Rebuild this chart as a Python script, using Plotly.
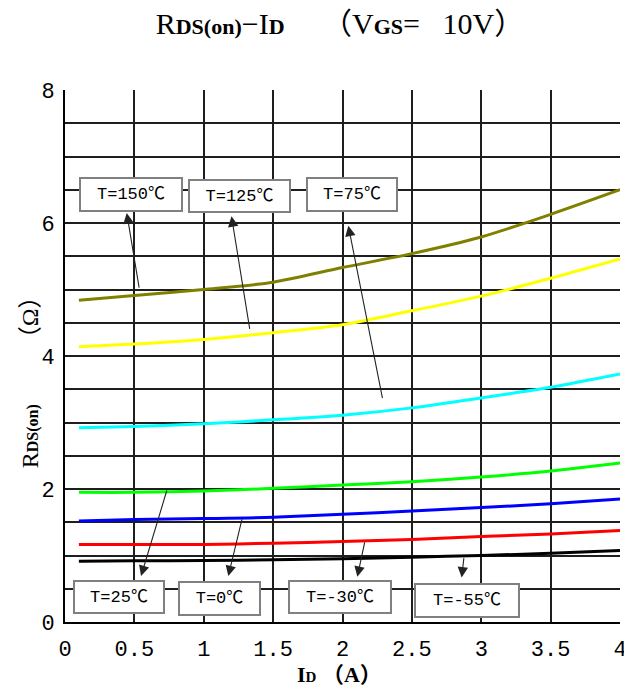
import numpy as np
import plotly.graph_objects as go

# ---------------- data ----------------
current_a = [0.1, 0.5, 1.0, 1.5, 2.0, 2.5, 3.0, 3.5, 4.0]
r_150 = [4.84, 4.91, 5.00, 5.11, 5.33, 5.54, 5.79, 6.13, 6.50]
r_125 = [4.14, 4.18, 4.25, 4.35, 4.47, 4.68, 4.90, 5.17, 5.46]
r_75 = [2.92, 2.94, 2.98, 3.04, 3.11, 3.22, 3.37, 3.53, 3.73]
r_25 = [1.95, 1.95, 1.97, 2.01, 2.06, 2.11, 2.18, 2.27, 2.39]
r_0 = [1.52, 1.54, 1.555, 1.575, 1.62, 1.67, 1.72, 1.78, 1.85]
r_m30 = [1.165, 1.165, 1.165, 1.185, 1.21, 1.24, 1.285, 1.325, 1.375]
r_m55 = [0.915, 0.92, 0.925, 0.935, 0.95, 0.975, 1.00, 1.035, 1.075]

series_labels = ["T=150℃", "T=125℃", "T=75℃", "T=25℃", "T=0℃", "T=-30℃", "T=-55℃"]
series_values = [r_150, r_125, r_75, r_25, r_0, r_m30, r_m55]

x_tick_vals = [0, 0.5, 1, 1.5, 2, 2.5, 3, 3.5, 4]
x_tick_text = ["0", "0.5", "1", "1.5", "2", "2.5", "3", "3.5", "4"]
y_tick_vals = [0, 0.5, 1, 1.5, 2, 2.5, 3, 3.5, 4, 4.5, 5, 5.5, 6, 6.5, 7, 7.5, 8]
y_tick_text = ["0", "", "", "", "2", "", "", "", "4", "", "", "", "6", "", "", "", "8"]

# ---------------- styles / layout helpers ----------------
colors = ["#808000", "#FFFF00", "#00FFFF", "#00FF00", "#0000FF", "#FF0000", "#000000"]
# label box: (center x, center y, width px, height px)
label_boxes = [
    (0.474, 6.43, 104, 35),
    (1.259, 6.40, 103, 34),
    (2.068, 6.43, 92, 35),
    (0.388, 0.38, 92, 34),
    (1.117, 0.35, 83, 35),
    (1.982, 0.38, 104, 34),
    (2.895, 0.33, 106, 35),
]
# arrow: (head x, head y, tail x, tail offset from curve)
arrows = [
    (0.445, 6.15, 0.536, 0.09),
    (1.200, 6.10, 1.333, 0.07),
    (2.042, 5.96, 2.290, 0.17),
    (0.548, 0.69, 0.737, 0.04),
    (1.177, 0.69, 1.278, 0.0),
    (2.107, 0.68, 2.162, 0.0),
    (2.859, 0.67, 2.876, -0.01),
]

tick_font = dict(family="Liberation Mono, DejaVu Sans Mono, monospace", size=22, color="#000")
serif = "Liberation Serif, Noto Sans CJK SC, serif"

fig = go.Figure()
for name, vals, col in zip(series_labels, series_values, colors):
    fig.add_trace(go.Scatter(x=current_a, y=vals, mode="lines", name=name,
                             line=dict(color=col, width=3, shape="spline", smoothing=0.8),
                             hoverinfo="skip"))

annotations = []
for (hx, hy, tx, dy), vals in zip(arrows, series_values):
    ty = float(np.interp(tx, current_a, vals)) + dy
    annotations.append(dict(x=hx, y=hy, ax=tx, ay=ty, xref="x", yref="y", axref="x", ayref="y",
                            text="", showarrow=True, arrowhead=2, arrowsize=1.9, arrowwidth=1.1,
                            arrowcolor="#222"))
for name, (cx, cy, w, h) in zip(series_labels, label_boxes):
    annotations.append(dict(x=cx, y=cy, xref="x", yref="y", text=name, showarrow=False,
                            width=w - 4, height=h - 4, bgcolor="white", bordercolor="#808080",
                            borderwidth=2, borderpad=0,
                            font=dict(family="Liberation Mono, Noto Sans CJK SC, monospace", size=17, color="#000")))

annotations.append(dict(x=-0.063, y=0.462, xref="paper", yref="paper", xanchor="center", yanchor="middle",
                        textangle=-90, showarrow=False,
                        text="R<span style='font-size:16px'><b>DS(on)</b></span>         （Ω）",
                        font=dict(family=serif, size=24, color="#000")))
annotations.append(dict(x=0.494, y=-0.0996, xref="paper", yref="paper", xanchor="center", yanchor="middle",
                        showarrow=False,
                        text="<b>I<span style='font-size:15px'>D</span> （A）</b>",
                        font=dict(family=serif, size=22, color="#000")))

# The page body adds an 8 px offset, so the figure is 8 px smaller than the window.
fig.update_layout(
    width=624, height=682,
    margin=dict(l=57, r=12, t=82, b=68, autoexpand=False),
    paper_bgcolor="white", plot_bgcolor="white",
    showlegend=False,
    title=dict(text="R<span style='font-size:22px'><b>DS(on)</b></span>−I<span style='font-size:22px'><b>D</b></span>     （V<span style='font-size:22px'><b>GS</b></span>=   10V）",
               x=0.532, xanchor="center", y=1 - 15 / 682, yanchor="middle",
               font=dict(family=serif, size=30, color="#000")),
    annotations=annotations,
)
fig.update_xaxes(range=[0, 4], tickvals=x_tick_vals, ticktext=x_tick_text, tickfont=tick_font,
                 showgrid=True, gridcolor="#1e1e1e", gridwidth=1.6, zeroline=False, automargin=False,
                 showline=True, linecolor="#000", linewidth=2, ticks="", ticklabelstandoff=6)
fig.update_yaxes(range=[0, 8], tickvals=y_tick_vals, ticktext=y_tick_text, tickfont=tick_font,
                 showgrid=True, gridcolor="#1e1e1e", gridwidth=1.6, zeroline=False, automargin=False,
                 showline=True, linecolor="#000", linewidth=2, ticks="", ticklabelstandoff=4)

fig.write_html("out.html")
